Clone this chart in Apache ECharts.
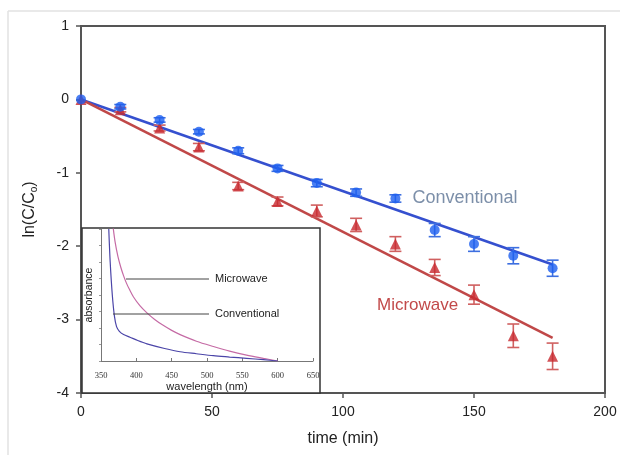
<!DOCTYPE html>
<html>
<head>
<meta charset="utf-8">
<script src="https://cdn.jsdelivr.net/npm/echarts@6/dist/echarts.min.js"></script>
<style>
html,body{margin:0;padding:0;background:#fff;}
#c{width:620px;height:455px;}
</style>
</head>
<body>
<div id="c"></div>
<script>
// ---- main chart data ----
const times = [0, 15, 30, 45, 60, 75, 90, 105, 120, 135, 150, 165, 180];
const convVals = [0, -0.10, -0.28, -0.44, -0.70, -0.94, -1.14, -1.27, -1.35, -1.78, -1.97, -2.13, -2.30];
const convErr = [0, 0.03, 0.03, 0.03, 0.04, 0.04, 0.05, 0.05, 0.05, 0.09, 0.10, 0.11, 0.11];
const microVals = [0, -0.14, -0.39, -0.65, -1.18, -1.39, -1.52, -1.71, -1.97, -2.29, -2.66, -3.22, -3.50];
const microErr = [0, 0.03, 0.04, 0.05, 0.05, 0.06, 0.08, 0.09, 0.10, 0.11, 0.13, 0.16, 0.18];
const fitTimes = [0, 180];
const convFit = [0, -2.25];
const microFit = [0, -3.25];
const xTicks = [0, 50, 100, 150, 200];
const yTicks = [-4, -3, -2, -1, 0, 1];

// ---- inset data ----
const convWl = [361, 363, 366, 369, 372, 376, 382, 391, 402, 415, 440, 462, 485, 509, 532, 556, 580, 600];
const convAbs = [1.0, 0.75, 0.50, 0.34, 0.26, 0.225, 0.20, 0.18, 0.155, 0.13, 0.095, 0.07, 0.055, 0.04, 0.03, 0.02, 0.01, 0.0];
const microWl = [367, 370, 374, 378, 382, 386, 390, 396, 405, 415, 426, 438, 450, 462, 485, 509, 532, 556, 580, 600];
const microAbs = [1.02, 0.90, 0.79, 0.71, 0.645, 0.59, 0.545, 0.485, 0.42, 0.365, 0.315, 0.27, 0.232, 0.20, 0.15, 0.11, 0.075, 0.045, 0.02, 0.0];
const insetTicks = [350, 400, 450, 500, 550, 600, 650];

const pair = (xs, ys) => xs.map((x, i) => [x, ys[i]]);
const triple = (xs, ys, es) => xs.map((x, i) => [x, ys[i], es[i]]);

function errRender(color) {
  return function (params, api) {
    const x = api.value(0), y = api.value(1), e = api.value(2);
    if (!e) return null;
    const hi = api.coord([x, y + e]);
    const lo = api.coord([x, y - e]);
    const w = 6;
    const st = {stroke: color, lineWidth: 1.6};
    return {
      type: 'group',
      children: [
        {type: 'line', shape: {x1: hi[0], y1: hi[1], x2: lo[0], y2: lo[1]}, style: st},
        {type: 'line', shape: {x1: hi[0] - w, y1: hi[1], x2: hi[0] + w, y2: hi[1]}, style: st},
        {type: 'line', shape: {x1: lo[0] - w, y1: lo[1], x2: lo[0] + w, y2: lo[1]}, style: st}
      ]
    };
  };
}

const chart = echarts.init(document.getElementById('c'), null, {renderer: 'canvas'});
const FONT = 'Liberation Sans, Arial, sans-serif';

chart.setOption({
  animation: false,
  backgroundColor: '#fff',
  grid: [
    {left: 81, top: 26, width: 524, height: 367, show: true, borderColor: '#555', borderWidth: 2, backgroundColor: 'transparent'},
    {left: 101, top: 229, width: 212, height: 132}
  ],
  xAxis: [
    {
      type: 'value', gridIndex: 0, min: xTicks[0], max: xTicks[xTicks.length - 1], interval: 50,
      name: 'time (min)', nameLocation: 'middle', nameGap: 38,
      nameTextStyle: {fontFamily: FONT, fontSize: 16, color: '#222'},
      axisLine: {show: true, onZero: false, lineStyle: {color: '#555', width: 2}},
      axisTick: {show: true, inside: false, length: 5, lineStyle: {color: '#555', width: 1.5}},
      axisLabel: {fontFamily: FONT, fontSize: 14, color: '#222', margin: 12},
      splitLine: {show: false}
    },
    {
      type: 'value', gridIndex: 1, min: insetTicks[0], max: insetTicks[insetTicks.length - 1], interval: 50,
      name: 'wavelength (nm)', nameLocation: 'middle', nameGap: 20, z: 5,
      nameTextStyle: {fontFamily: FONT, fontSize: 11, color: '#222'},
      axisLine: {show: true, onZero: false, lineStyle: {color: '#777', width: 1}},
      axisTick: {show: true, inside: true, length: 3, lineStyle: {color: '#777'}},
      axisLabel: {fontFamily: 'Liberation Serif, Times New Roman, serif', fontSize: 8.5, color: '#333', margin: 10},
      splitLine: {show: false}
    }
  ],
  yAxis: [
    {
      type: 'value', gridIndex: 0, min: yTicks[0], max: yTicks[yTicks.length - 1], interval: 1,
      name: '{a|ln(C/C}{s|o}{a|)}', nameLocation: 'middle', nameGap: 42, nameRotate: 90,
      nameTextStyle: {
        rich: {
          a: {fontFamily: FONT, fontSize: 16, color: '#222'},
          s: {fontFamily: FONT, fontSize: 10, color: '#222', verticalAlign: 'bottom', padding: [8, 0, 0, 0]}
        }
      },
      axisLine: {show: true, onZero: false, lineStyle: {color: '#555', width: 2}},
      axisTick: {show: true, inside: false, length: 5, lineStyle: {color: '#555', width: 1.5}},
      axisLabel: {fontFamily: FONT, fontSize: 14, color: '#222', margin: 12},
      splitLine: {show: false}
    },
    {
      type: 'value', gridIndex: 1, min: 0, max: 1, interval: 0.125, z: 5,
      name: 'absorbance', nameLocation: 'middle', nameGap: 6, nameRotate: 90,
      nameTextStyle: {fontFamily: FONT, fontSize: 10.5, color: '#222'},
      axisLine: {show: true, onZero: false, lineStyle: {color: '#777', width: 1}},
      axisTick: {show: true, inside: false, length: 2, lineStyle: {color: '#999'}},
      axisLabel: {show: false},
      splitLine: {show: false}
    }
  ],
  graphic: [
    {type: 'line', shape: {x1: 8, y1: 11, x2: 620, y2: 11}, style: {stroke: '#e2e2e2', lineWidth: 1.5}, z: 0},
    {type: 'line', shape: {x1: 8, y1: 11, x2: 8, y2: 455}, style: {stroke: '#e2e2e2', lineWidth: 1.5}, z: 0},
    {type: 'rect', shape: {x: 82, y: 228, width: 238, height: 165}, style: {fill: '#fff', stroke: '#333', lineWidth: 1.5}, z: 1},
    {type: 'line', shape: {x1: 126, y1: 279, x2: 209, y2: 279}, style: {stroke: '#444', lineWidth: 1}, z: 10},
    {type: 'text', x: 215, y: 279, style: {text: 'Microwave', fontFamily: FONT, fontSize: 11, fill: '#222', verticalAlign: 'middle'}, z: 10},
    {type: 'line', shape: {x1: 113, y1: 314, x2: 209, y2: 314}, style: {stroke: '#444', lineWidth: 1}, z: 10},
    {type: 'text', x: 215, y: 314, style: {text: 'Conventional', fontFamily: FONT, fontSize: 11, fill: '#222', verticalAlign: 'middle'}, z: 10},
    {type: 'text', x: 377, y: 305, style: {text: 'Microwave', fontFamily: FONT, fontSize: 17, fill: '#c24a4a', verticalAlign: 'middle'}, z: 10}
  ],
  series: [
    {
      type: 'line', xAxisIndex: 0, yAxisIndex: 0, data: pair(fitTimes, convFit),
      symbol: 'none', lineStyle: {color: '#3550cf', width: 2.6}, z: 3
    },
    {
      type: 'line', xAxisIndex: 0, yAxisIndex: 0, data: pair(fitTimes, microFit),
      symbol: 'none', lineStyle: {color: '#c04848', width: 2.6}, z: 3
    },
    {
      type: 'custom', xAxisIndex: 0, yAxisIndex: 0, renderItem: errRender('#d06060'),
      data: triple(times, microVals, microErr), encode: {x: 0, y: 1}, z: 4
    },
    {
      type: 'custom', xAxisIndex: 0, yAxisIndex: 0, renderItem: errRender('#3d6fe0'),
      data: triple(times, convVals, convErr), encode: {x: 0, y: 1}, z: 4
    },
    {
      type: 'scatter', xAxisIndex: 0, yAxisIndex: 0, data: pair(times, microVals),
      symbol: 'triangle', symbolSize: 11, itemStyle: {color: '#c8282e'}, z: 5
    },
    {
      type: 'scatter', xAxisIndex: 0, yAxisIndex: 0,
      data: pair(times, convVals).map((p, i) => i === 8 ? {value: p, label: {show: true, position: 'right', distance: 12, formatter: 'Conventional', fontFamily: FONT, fontSize: 18, color: '#5b7393'}} : p),
      symbol: 'circle', symbolSize: 10, itemStyle: {color: '#1d5ff0'}, z: 6
    },
    {
      type: 'line', xAxisIndex: 1, yAxisIndex: 1, data: pair(microWl, microAbs),
      symbol: 'none', smooth: 0.3, lineStyle: {color: '#c56ba5', width: 1.2}, z: 5
    },
    {
      type: 'line', xAxisIndex: 1, yAxisIndex: 1, data: pair(convWl, convAbs),
      symbol: 'none', smooth: 0.3, lineStyle: {color: '#4b45a8', width: 1.2}, z: 5
    }
  ]
});
</script>
</body>
</html>
